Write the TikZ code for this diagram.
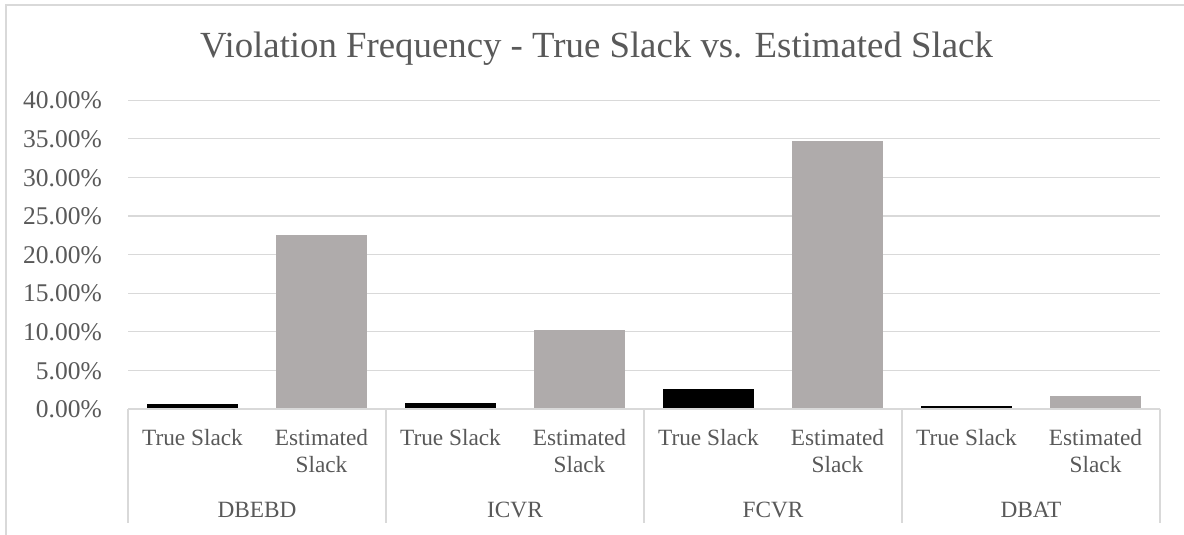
\documentclass[tikz,border=0pt]{standalone}
\usepackage{fontspec}
\setmainfont{Liberation Serif}
\definecolor{txtgray}{HTML}{595959}
\definecolor{gridgray}{HTML}{D9D9D9}
\definecolor{estbar}{HTML}{AFABAB}
\begin{document}
\begin{tikzpicture}[x=1pt,y=-1pt,
  gridline/.style={draw=gridgray,line width=1.3pt},
  truebar/.style={fill=black},
  estbarstyle/.style={fill=estbar},
  axlabel/.style={text=txtgray,font=\fontsize{25.5}{29}\selectfont,inner sep=0pt},
  catlabel/.style={text=txtgray,font=\fontsize{23.3}{27}\selectfont,inner sep=0pt,anchor=base},
  titlestyle/.style={text=txtgray,font=\fontsize{36.8}{44}\selectfont,inner sep=0pt,anchor=base}]
\useasboundingbox (0,0) rectangle (1184,535);
\fill[white] (0,0) rectangle (1184,535);
% outer frame (cropped at right and bottom)
\draw[gridgray,line width=1.3pt] (6,540) -- (6,5) -- (1190,5);
% title
\node[titlestyle] (title) at (596.5,58) {Violation Frequency - True Slack vs. Estimated Slack};
% gridlines and y labels
\foreach \v in {1,...,8}{
  \draw[gridline] (128,{409-38.6*\v}) -- (1160,{409-38.6*\v});
}
\foreach \v/\lab in {0/0.00\%,1/5.00\%,2/10.00\%,3/15.00\%,4/20.00\%,5/25.00\%,6/30.00\%,7/35.00\%,8/40.00\%}{
  \node[axlabel,anchor=base east] (y\v) at (102,{409-38.6*\v+8.7}) {\lab};
}
% bars
\foreach \g/\t/\e in {0/0.65/22.55,1/0.74/10.24,2/2.6/34.7,3/0.4/1.7}{
  \path[truebar] ({128+258*\g+64.5-45.5},409) rectangle ({128+258*\g+64.5+45.5},{409-7.715*\t});
  \path[estbarstyle] ({128+258*\g+193.5-45.5},409) rectangle ({128+258*\g+193.5+45.5},{409-7.715*\e});
}
% category axis
\draw[gridline] (128,409) -- (1160,409);
\foreach \g in {0,1,2,3,4}{
  \draw[gridline] ({128+258*\g},409) -- ({128+258*\g},523);
}
\foreach \g/\name in {0/DBEBD,1/ICVR,2/FCVR,3/DBAT}{
  \node[catlabel] (t\g) at ({128+258*\g+64.5},445) {True Slack};
  \node[catlabel] (e\g) at ({128+258*\g+193.5},445) {Estimated};
  \node[catlabel] (s\g) at ({128+258*\g+193.5},472) {Slack};
  \node[catlabel] (g\g) at ({128+258*\g+129},517) {\name};
}
\end{tikzpicture}
\end{document}
